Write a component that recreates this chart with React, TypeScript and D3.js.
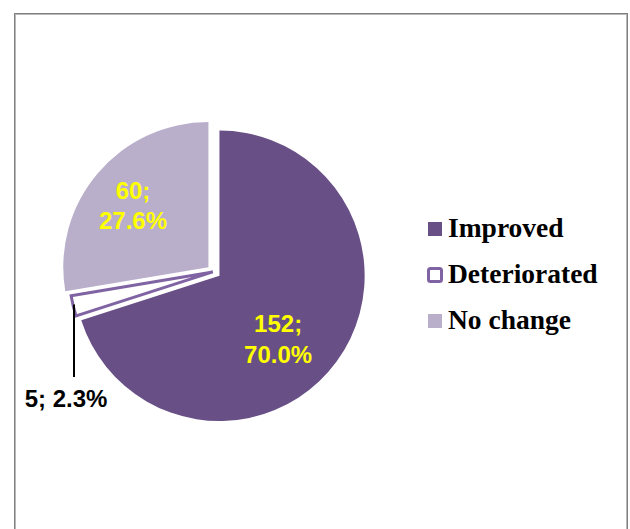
import React from "react";
import * as d3 from "d3";

const categories = ["Improved", "Deteriorated", "No change"];
const values = [152, 5, 60];
const percents = ["70.0%", "2.3%", "27.6%"];

const W = 630;
const H = 529;
const CX = 213.8;
const CY = 271.7;
const R = 145.2;
const EXPLODE = [7, 1, 7];
const FILL = ["#684F86", "#FFFFFF", "#B9AFCB"];
const STROKE = ["none", "#7F63A2", "none"];
const LABEL_COLOR = ["#FFFF00", "#000000", "#FFFF00"];
// label offsets relative to arc centroid (first line baseline)
const LABEL_OFF = [
  { dx: 0, dy: 13.5 },
  { dx: 0, dy: 0 },
  { dx: -20, dy: -21.4 },
];

export default function App() {
  const pie = d3
    .pie<number>()
    .sort(null)
    .value((d) => d);
  const arcs = pie(values);
  const arc = d3.arc<d3.PieArcDatum<number>>().innerRadius(0).outerRadius(R);

  const labelFont = "'Liberation Sans', Arial, sans-serif";
  const legendFont = "'Liberation Serif', 'Times New Roman', serif";

  return (
    <svg
      width={W}
      height={H}
      style={{ position: "absolute", left: 0, top: 0, background: "#fff" }}
    >
      {/* frame */}
      <rect x={14.5} y={13.5} width={613} height={530} fill="none" stroke="#808080" strokeWidth={1} />
      <rect x={15.5} y={14.5} width={611} height={530} fill="none" stroke="#b8b8b8" strokeWidth={1} />

      {arcs.map((a, i) => {
        const mid = (a.startAngle + a.endAngle) / 2;
        const ox = CX + Math.sin(mid) * EXPLODE[i];
        const oy = CY - Math.cos(mid) * EXPLODE[i];
        const isOutline = STROKE[i] !== "none";
        const arcDraw = isOutline
          ? d3.arc<d3.PieArcDatum<number>>().innerRadius(0).outerRadius(R - 1.5)
          : arc;
        return (
          <g key={categories[i]} transform={`translate(${ox},${oy})`}>
            <path
              d={arcDraw(a) || ""}
              fill={FILL[i]}
              stroke={STROKE[i]}
              strokeWidth={isOutline ? 3 : 0}
              strokeLinejoin="miter"
            />
          </g>
        );
      })}

      {/* labels */}
      {arcs.map((a, i) => {
        const mid = (a.startAngle + a.endAngle) / 2;
        const ox = CX + Math.sin(mid) * EXPLODE[i];
        const oy = CY - Math.cos(mid) * EXPLODE[i];
        const [cx, cy] = arc.centroid(a);
        if (i === 1) {
          const ey = oy - Math.cos(mid) * (R - 8);
          const lx = 74;
          return (
            <g key={"lab" + i}>
              <line x1={lx} y1={ey} x2={lx} y2={377} stroke="#000" strokeWidth={2} />
              <text
                x={66}
                y={407}
                textAnchor="middle"
                fontFamily={labelFont}
                fontWeight="bold"
                fontSize={24}
                fill={LABEL_COLOR[i]}
              >
                {`${values[i]}; ${percents[i]}`}
              </text>
            </g>
          );
        }
        const x = ox + cx + LABEL_OFF[i].dx;
        const y = oy + cy + LABEL_OFF[i].dy;
        return (
          <text
            key={"lab" + i}
            textAnchor="middle"
            fontFamily={labelFont}
            fontWeight="bold"
            fontSize={24}
            fill={LABEL_COLOR[i]}
          >
            <tspan x={x} y={y}>{`${values[i]};`}</tspan>
            <tspan x={x} y={y + 30.5}>{percents[i]}</tspan>
          </text>
        );
      })}

      {/* legend */}
      {categories.map((c, i) => {
        const by = 237 + i * 46;
        return (
          <g key={"leg" + c}>
            {STROKE[i] !== "none" ? (
              <rect
                x={428.5}
                y={by - 14.5}
                width={13}
                height={13}
                rx={2}
                fill="#fff"
                stroke={STROKE[i]}
                strokeWidth={3}
              />
            ) : (
              <rect x={428} y={by - 15} width={14} height={14} fill={FILL[i]} />
            )}
            <text
              x={448}
              y={by}
              fontFamily={legendFont}
              fontWeight="bold"
              fontSize={27.5}
              fill="#000"
            >
              {c}
            </text>
          </g>
        );
      })}
    </svg>
  );
}
